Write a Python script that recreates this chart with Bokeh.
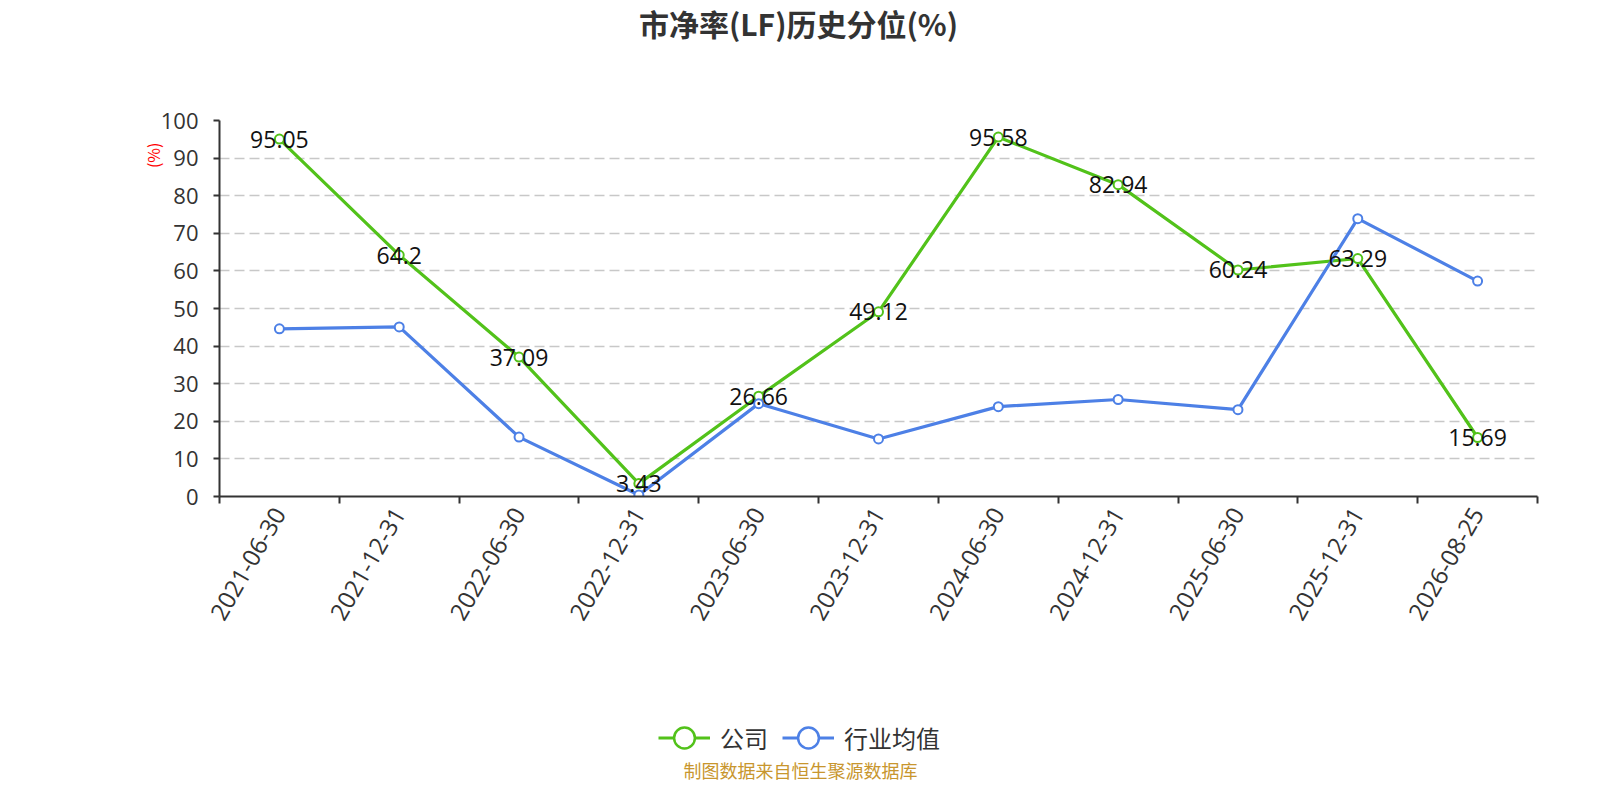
import math
from bokeh.plotting import figure
from bokeh.layouts import column
from bokeh.models import (Range1d, FixedTicker, Label, Legend, LegendItem,
                          ColumnDataSource, Title)
from bokeh.core.properties import value
from bokeh.embed import file_html
from bokeh.resources import INLINE

dates = ["2021-06-30", "2021-12-31", "2022-06-30", "2022-12-31", "2023-06-30",
         "2023-12-31", "2024-06-30", "2024-12-31", "2025-06-30", "2025-12-31", "2026-08-25"]
company = [95.05, 64.2, 37.09, 3.43, 26.66, 49.12, 95.58, 82.94, 60.24, 63.29, 15.69]
industry = [44.6, 45.1, 15.8, 0.4, 24.7, 15.3, 23.9, 25.8, 23.1, 73.9, 57.3]
y_ticks = list(range(0, 101, 10))
title_text = "市净率(LF)历史分位(%)"
unit_text = "(%)"
footer_text = "制图数据来自恒生聚源数据库"
name_company = "公司"
name_industry = "行业均值"

GREEN = "#52C21A"
BLUE = "#4D80E6"
CJK = "Noto Sans CJK SC"
NUM = "Open Sans"
W = 1584
LEFT, RIGHT = 219, 1537          # frame edges (canvas px)
H_HEAD, H_MAIN, H_FOOT = 100, 560, 124


def blank(h):
    # frame is aligned with the main chart's frame inside the column
    f = figure(width=W, height=h, output_backend="svg", toolbar_location=None,
               x_range=Range1d(LEFT, RIGHT), y_range=Range1d(0, h),
               x_axis_location=None, y_axis_location=None,
               min_border=0, min_border_left=LEFT, min_border_right=W - RIGHT,
               outline_line_color=None)
    f.grid.visible = False
    return f


# ---- header
head = blank(H_HEAD)
head.add_layout(Label(x=798, y=H_HEAD - 22.5, text=title_text, text_align="center",
                      text_baseline="middle", text_font=CJK, text_font_size="30px",
                      text_font_style="bold", text_color="#333333"))

# ---- main chart
xs = list(range(len(dates)))
src = ColumnDataSource(dict(x=xs, c=company, i=industry,
                            lab=[f"{v:g}" for v in company]))

p = figure(width=W, height=H_MAIN, output_backend="svg", toolbar_location=None,
           x_range=Range1d(-0.5, len(dates) - 0.5), y_range=Range1d(0, 100),
           min_border_left=LEFT, min_border_right=W - RIGHT, min_border_top=20,
           min_border_bottom=H_MAIN - 20 - 376)
p.outline_line_color = None
p.xgrid.grid_line_color = None
p.ygrid.grid_line_color = "#c8c8c8"
p.ygrid.grid_line_dash = "10 5"
p.ygrid.grid_line_width = 1.5

p.xaxis.ticker = FixedTicker(ticks=xs, minor_ticks=[k - 0.5 for k in range(len(dates) + 1)])
p.xaxis.major_label_overrides = {k: d for k, d in enumerate(dates)}
p.xaxis.major_tick_line_color = None
p.xaxis.major_tick_out = 0
p.xaxis.minor_tick_line_color = "#333333"
p.xaxis.minor_tick_line_width = 2
p.xaxis.minor_tick_out = 7
p.xaxis.minor_tick_in = 0
p.xaxis.major_label_orientation = math.pi / 3
p.xaxis.major_label_standoff = 6
p.yaxis.ticker = FixedTicker(ticks=y_ticks)
p.yaxis.major_tick_out = 6
p.yaxis.major_tick_in = 0
p.yaxis.major_tick_line_color = "#333333"
p.yaxis.major_tick_line_width = 2
p.yaxis.minor_tick_line_color = None
p.yaxis.major_label_standoff = 15
for ax in (p.xaxis[0], p.yaxis[0]):
    ax.axis_line_color = "#333333"
    ax.axis_line_width = 2
    ax.major_label_text_font = NUM
    ax.major_label_text_color = "#333333"
p.yaxis.major_label_text_font_size = "22px"
p.xaxis.major_label_text_font_size = "24px"

lc = p.line("x", "c", source=src, line_color=GREEN, line_width=3.2)
sc = p.scatter("x", "c", source=src, size=9, fill_color="white", line_color=GREEN, line_width=2)
li = p.line("x", "i", source=src, line_color=BLUE, line_width=3.2)
si = p.scatter("x", "i", source=src, size=9, fill_color="white", line_color=BLUE, line_width=2)

p.text("x", "c", text="lab", source=src, text_align="center", text_baseline="middle",
       text_font=value(NUM), text_font_size="23px", text_color="#111111")

p.add_layout(Title(text=unit_text, align="right", offset=22, standoff=-14,
                   text_font=CJK, text_font_size="16px", text_font_style="normal",
                   text_color="red"), "left")

# ---- footer with legend
foot = blank(H_FOOT)
nan = float("nan")
legend_src = ColumnDataSource(dict(x=[nan], y=[nan]))
fl1 = foot.line("x", "y", source=legend_src, line_color=GREEN, line_width=3)
fs1 = foot.scatter("x", "y", source=legend_src, fill_color="white", line_color=GREEN, line_width=2.5)
fl2 = foot.line("x", "y", source=legend_src, line_color=BLUE, line_width=3)
fs2 = foot.scatter("x", "y", source=legend_src, fill_color="white", line_color=BLUE, line_width=2.5)
legend = Legend(items=[LegendItem(label=name_company, renderers=[fl1, fs1]),
                       LegendItem(label=name_industry, renderers=[fl2, fs2])],
                orientation="horizontal", location=(658 - LEFT, 19), margin=0,
                glyph_width=52, glyph_height=55, label_text_font=CJK,
                label_text_font_size="24px", label_text_color="#333333",
                label_text_baseline="middle",
                border_line_color=None, background_fill_alpha=0, padding=0,
                spacing=14, label_standoff=10)
foot.add_layout(legend, "center")
foot.add_layout(Label(x=800, y=H_FOOT - (769 - H_HEAD - H_MAIN), text=footer_text,
                      text_align="center", text_baseline="middle", text_font=CJK,
                      text_font_size="18px", text_color="#C8962E"))

layout = column(head, p, foot, spacing=0)
open("out.html", "w").write(file_html(layout, INLINE))
